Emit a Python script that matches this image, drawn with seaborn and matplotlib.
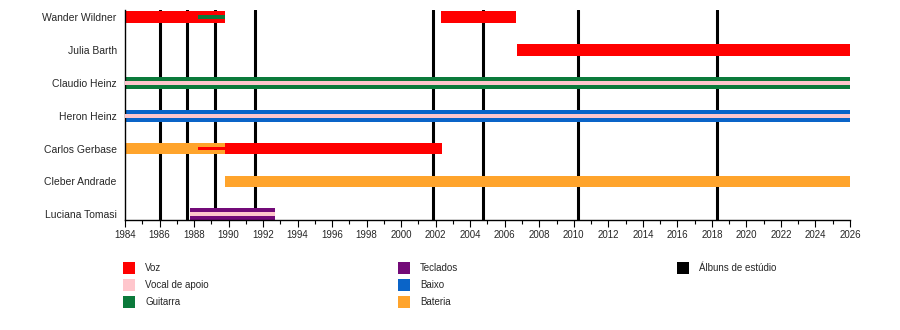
import matplotlib
matplotlib.use("Agg")
import matplotlib.pyplot as plt
import matplotlib.patches as mpatches
from matplotlib.ticker import MultipleLocator
import seaborn as sns
import pandas as pd

# Band members, top to bottom
members = ["Wander Wildner", "Julia Barth", "Claudio Heinz", "Heron Heinz",
           "Carlos Gerbase", "Cleber Andrade", "Luciana Tomasi"]

# Role colours
roles = ["Voz", "Vocal de apoio", "Guitarra", "Teclados", "Baixo", "Bateria"]
role_colors = {
    "Voz": "#ff0000",
    "Vocal de apoio": "#ffc6cc",
    "Guitarra": "#0b7a3b",
    "Teclados": "#730a78",
    "Baixo": "#0a64c8",
    "Bateria": "#ffa42c",
}

# Membership spans: member, role, start, end, kind (main bar / stripe / thin line)
seg_member = ["Wander Wildner", "Wander Wildner", "Wander Wildner",
              "Julia Barth",
              "Claudio Heinz", "Claudio Heinz",
              "Heron Heinz", "Heron Heinz",
              "Carlos Gerbase", "Carlos Gerbase", "Carlos Gerbase",
              "Cleber Andrade",
              "Luciana Tomasi", "Luciana Tomasi"]
seg_role = ["Voz", "Guitarra", "Voz",
            "Voz",
            "Guitarra", "Vocal de apoio",
            "Baixo", "Vocal de apoio",
            "Bateria", "Voz", "Voz",
            "Bateria",
            "Teclados", "Vocal de apoio"]
seg_start = [1984.0, 1988.22, 2002.32,
             2006.68,
             1984.0, 1984.0,
             1984.0, 1984.0,
             1984.0, 1988.22, 1989.82,
             1989.82,
             1987.77, 1987.77]
seg_end = [1989.82, 1989.82, 2006.68,
           2026.0,
           2026.0, 2026.0,
           2026.0, 2026.0,
           1989.82, 1989.82, 2002.36,
           2026.0,
           1992.69, 1992.69]
seg_kind = ["bar", "line", "bar",
            "bar",
            "bar", "stripe",
            "bar", "stripe",
            "bar", "line", "bar",
            "bar",
            "bar", "stripe"]

# Studio album release dates
albums = [1986.04, 1987.61, 1989.23, 1991.55, 2001.86, 2004.76, 2010.24, 2018.31]

df = pd.DataFrame({"member": seg_member, "role": seg_role,
                   "start": seg_start, "end": seg_end, "kind": seg_kind})
df["row"] = df["member"].map({m: i for i, m in enumerate(members)})

sns.set_theme(style="white")
plt.rcParams["font.family"] = ["Liberation Sans", "DejaVu Sans"]

fig = plt.figure(figsize=(9.0, 3.3), dpi=100)
ax = fig.add_axes([125 / 900, 110 / 330, 725 / 900, 210 / 330])

heights = {"bar": 0.36, "stripe": 0.12, "line": 0.11}
for kind in ["bar", "stripe", "line"]:
    sub = df[df["kind"] == kind]
    ax.barh(sub["row"], sub["end"] - sub["start"], left=sub["start"],
            height=heights[kind], color=sub["role"].map(role_colors),
            linewidth=0, zorder=2 if kind == "bar" else 3)

for yr in albums:
    ax.axvline(yr, color="black", linewidth=2.2, zorder=1)

ax.set_xlim(1984, 2026)
ax.set_ylim(6.17, -0.21)
ax.set_yticks(range(len(members)))
ax.set_yticklabels(members, fontsize=7.5)
ax.tick_params(axis="y", length=0, pad=6)
ax.xaxis.set_major_locator(MultipleLocator(2))
ax.xaxis.set_minor_locator(MultipleLocator(1))
ax.tick_params(axis="x", which="major", direction="out", length=5, width=0.8,
               labelsize=7, pad=2, bottom=True, color="black")
ax.tick_params(axis="x", which="minor", direction="out", length=3, width=0.8,
               bottom=True, color="black")
for s in ["top", "right"]:
    ax.spines[s].set_visible(False)
for s in ["left", "bottom"]:
    ax.spines[s].set_color("black")
    ax.spines[s].set_linewidth(1.0)
ax.grid(False)

# Legend laid out in three columns beneath the timeline
legend_items = [("Voz", role_colors["Voz"], 123, 268),
                ("Vocal de apoio", role_colors["Vocal de apoio"], 123, 285),
                ("Guitarra", role_colors["Guitarra"], 123, 302),
                ("Teclados", role_colors["Teclados"], 398, 268),
                ("Baixo", role_colors["Baixo"], 398, 285),
                ("Bateria", role_colors["Bateria"], 398, 302),
                ("Álbuns de estúdio", "black", 677, 268)]
for label, color, px, py in legend_items:
    fig.patches.append(mpatches.Rectangle(
        (px / 900, 1 - (py + 6) / 330), 12 / 900, 12 / 330,
        transform=fig.transFigure, facecolor=color, edgecolor="none"))
    fig.text((px + 22) / 900, 1 - py / 330, label, fontsize=7, va="center",
             ha="left", family=["Liberation Sans Narrow", "Liberation Sans", "DejaVu Sans"])

fig.savefig("out.png", dpi=100)
